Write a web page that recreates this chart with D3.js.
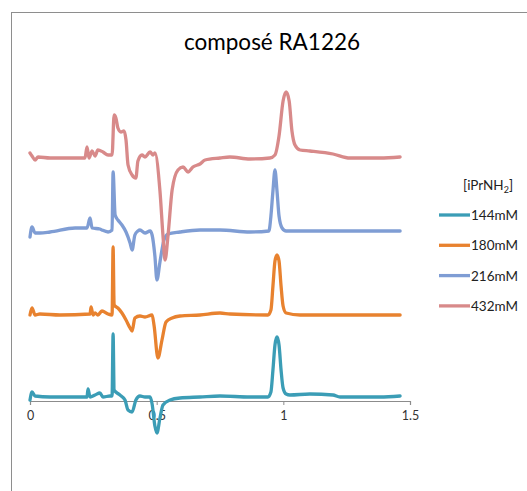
<!DOCTYPE html>
<html><head><meta charset="utf-8">
<script src="https://cdn.jsdelivr.net/npm/d3@7"></script>
<style>html,body{margin:0;padding:0;background:#fff;}svg{display:block;}</style>
</head><body>
<svg id="chart" width="527" height="491"></svg>
<script>
const chartTitle = "composé RA1226";
const seriesNames = ["144mM", "180mM", "216mM", "432mM"];
const seriesColors = ["#3b9db6", "#e8822f", "#7f9dd4", "#d88a8a"];
const xTicks = [0, 0.5, 1, 1.5];

const s144 = [[0,0.1],[0.008,0.9],[0.020,0.5],[0.079,0.4],[0.178,0.4],[0.225,0.4],[0.229,1.2],[0.237,0.4],[0.257,0.6],[0.276,0.8],[0.288,0.4],[0.316,0.5],[0.324,0.5],[0.328,6.7],[0.332,1.1],[0.339,0.9],[0.355,0.6],[0.375,0.1],[0.387,-0.9],[0.403,-1.1],[0.418,0.1],[0.434,0.5],[0.454,0.4],[0.474,0.4],[0.482,-0.3],[0.493,-2.5],[0.501,-3.2],[0.513,-1.7],[0.525,-0.4],[0.553,0.1],[0.592,0.3],[0.671,0.4],[0.750,0.5],[0.868,0.4],[0.939,0.4],[0.951,0.9],[0.959,3.1],[0.967,5.6],[0.975,6.4],[0.983,5.6],[0.991,3.1],[0.999,1.3],[1.011,0.7],[1.026,0.6],[1.105,0.7],[1.196,0.6],[1.224,0.4],[1.382,0.4],[1.461,0.5]];
const s180 = [[0,8.6],[0.008,9.3],[0.020,8.6],[0.039,8.7],[0.118,8.6],[0.237,8.7],[0.241,9.4],[0.249,8.6],[0.257,8.8],[0.268,8.6],[0.284,9.0],[0.308,8.7],[0.324,8.6],[0.328,15.4],[0.332,9.6],[0.347,9.3],[0.363,8.8],[0.379,8.1],[0.395,7.3],[0.403,7.0],[0.414,8.3],[0.434,8.5],[0.454,8.4],[0.482,8.6],[0.490,7.5],[0.505,4.3],[0.521,6.1],[0.537,7.9],[0.561,8.3],[0.592,8.5],[0.671,8.6],[0.750,8.8],[0.790,8.7],[0.939,8.6],[0.951,9.1],[0.959,11.5],[0.967,14.0],[0.975,14.6],[0.983,14.0],[0.991,11.5],[0.999,9.5],[1.011,8.8],[1.066,8.6],[1.461,8.6]];
const s216 = [[0,16.4],[0.008,17.4],[0.020,16.8],[0.039,16.8],[0.079,16.9],[0.178,17.3],[0.225,17.3],[0.237,18.3],[0.245,17.3],[0.276,17.2],[0.284,17.1],[0.308,16.9],[0.324,17.1],[0.328,22.9],[0.336,18.6],[0.347,18.1],[0.363,17.6],[0.379,16.9],[0.395,15.8],[0.403,15.1],[0.414,16.6],[0.426,17.0],[0.434,17.1],[0.454,16.8],[0.474,17.0],[0.482,16.6],[0.493,14.5],[0.501,12.1],[0.513,13.9],[0.529,16.1],[0.545,16.7],[0.592,16.9],[0.671,17.1],[0.750,17.1],[0.868,16.9],[0.943,17.0],[0.951,18.5],[0.959,21.0],[0.967,23.1],[0.975,21.0],[0.983,18.5],[0.995,17.3],[1.011,17.0],[1.461,17.0]];
const s432 = [[0,24.8],[0.008,24.5],[0.020,24.1],[0.032,24.4],[0.079,24.3],[0.217,24.3],[0.225,25.4],[0.233,24.3],[0.245,25.0],[0.257,24.5],[0.268,25.1],[0.288,24.9],[0.308,24.6],[0.324,24.6],[0.332,28.6],[0.339,28.3],[0.347,27.3],[0.359,26.9],[0.371,27.0],[0.379,26.1],[0.387,23.6],[0.403,22.6],[0.418,22.3],[0.426,24.0],[0.442,24.6],[0.454,24.4],[0.474,24.9],[0.486,24.6],[0.493,24.8],[0.513,21.0],[0.525,16.5],[0.533,14.1],[0.545,16.6],[0.561,21.1],[0.584,23.1],[0.604,23.4],[0.624,22.9],[0.643,23.4],[0.671,23.7],[0.691,24.1],[0.750,24.3],[0.789,24.4],[0.868,24.2],[0.947,24.3],[0.967,24.6],[0.983,26.5],[0.999,30.0],[1.011,30.9],[1.023,30.0],[1.034,27.0],[1.046,25.6],[1.066,25.1],[1.105,25.0],[1.196,24.7],[1.263,24.3],[1.382,24.3],[1.461,24.4]];
const seriesData = [s144, s180, s216, s432];

const svg = d3.select("#chart");
const x = d3.scaleLinear().domain([0, 1.5]).range([30, 410]);
const y = d3.scaleLinear().domain([0, 39]).range([401, 11]);

// chart frame
svg.append("rect").attr("x", 11.5).attr("y", 12.5).attr("width", 700).attr("height", 700)
  .attr("fill", "none").attr("stroke", "#8e8e8e").attr("stroke-width", 1);

// title
svg.append("text").attr("x", 272).attr("y", 50).attr("text-anchor", "middle")
  .attr("font-family", "Lato, 'Open Sans', sans-serif").attr("font-size", 22.5).attr("fill", "#000")
  .text(chartTitle);

// x axis
const xAxis = d3.axisBottom(x).tickValues(xTicks).tickSize(4).tickPadding(6).tickFormat(d3.format("~g"));
const ax = svg.append("g").attr("transform", `translate(0,${y(0)})`).call(xAxis);
ax.select(".domain").attr("stroke", "#8c8c8c").attr("stroke-width", 1.2);
ax.selectAll(".tick line").attr("stroke", "#8c8c8c");
ax.selectAll(".tick text").attr("font-family", "Lato, 'Open Sans', sans-serif").attr("font-size", 12.5).attr("fill", "#333");

// lines
const line = d3.line().x(d => x(d[0])).y(d => y(d[1])).curve(d3.curveMonotoneX);
seriesData.forEach((data, i) => {
  svg.append("path").datum(data).attr("d", line)
    .attr("fill", "none").attr("stroke", seriesColors[i]).attr("stroke-width", 3.3)
    .attr("stroke-linejoin", "round").attr("stroke-linecap", "round");
});

// legend
const lg = svg.append("g").attr("font-family", "Lato, 'Open Sans', sans-serif").attr("font-size", 13.5).attr("fill", "#222");
const lt = lg.append("text").attr("x", 463).attr("y", 190);
lt.append("tspan").text("[iPrNH");
lt.append("tspan").attr("font-size", 9).attr("dy", 3).text("2");
lt.append("tspan").attr("dy", -3).text("]");
seriesNames.forEach((name, i) => {
  const yy = 215 + i * 30.3;
  lg.append("line").attr("x1", 439).attr("x2", 470).attr("y1", yy).attr("y2", yy)
    .attr("stroke", seriesColors[i]).attr("stroke-width", 3.3);
  lg.append("text").attr("x", 471).attr("y", yy + 5).text(name);
});
</script>
</body></html>
